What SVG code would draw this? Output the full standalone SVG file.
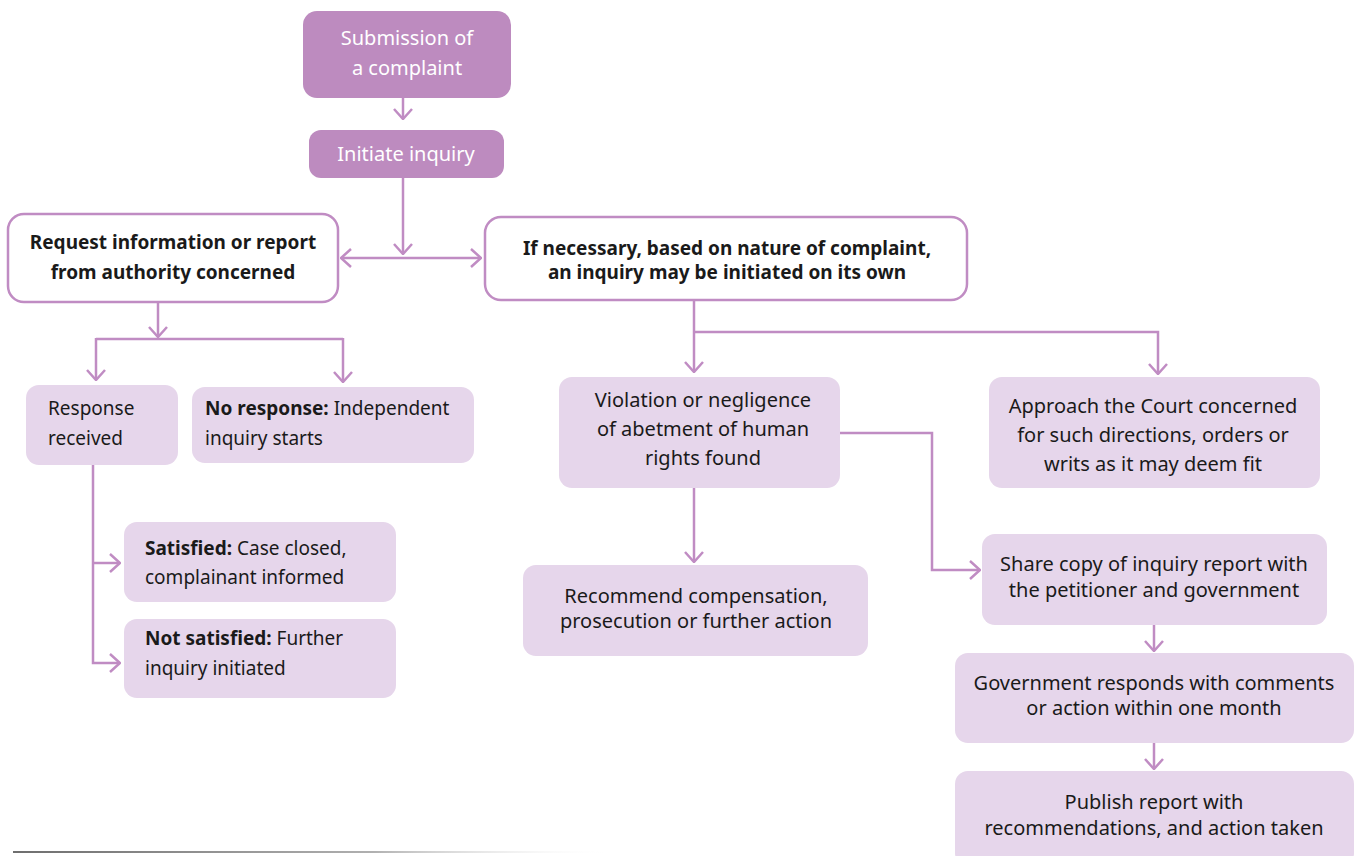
<svg xmlns="http://www.w3.org/2000/svg" width="1357" height="856" viewBox="0 0 1357 856">
<style>
text{font-family:"Noto Sans",Lato,"Liberation Sans",sans-serif;font-size:19px;fill:#1a1a1a}
.w{fill:#ffffff}
.b{font-weight:bold}
.c{text-anchor:middle}
.r{font-size:20px}
.dk{fill:#bd8bbf}
.lt{fill:#e6d6eb}
.ol{fill:#ffffff;stroke:#c08cc3;stroke-width:2.5}
.ln{fill:none;stroke:#c08cc3;stroke-width:2.5}
</style>
<defs>
<marker id="ah" viewBox="0 0 12 20" refX="11" refY="10" markerWidth="12" markerHeight="20" markerUnits="userSpaceOnUse" orient="auto">
<path d="M1,1 L11,10 L1,19" fill="none" stroke="#c08cc3" stroke-width="2.5"/>
</marker>
<linearGradient id="fade" x1="0" x2="1" y1="0" y2="0">
<stop offset="0" stop-color="#6e6e6e"/>
<stop offset="0.6" stop-color="#b0b0b0"/>
<stop offset="1" stop-color="#ffffff" stop-opacity="0"/>
</linearGradient>
</defs>

<g id="connectors">
<path class="ln" d="M403,98 V119" marker-end="url(#ah)"/>
<path class="ln" d="M403,178 V254" marker-end="url(#ah)"/>
<path class="ln" d="M403,258 H341" marker-end="url(#ah)"/>
<path class="ln" d="M403,258 H481" marker-end="url(#ah)"/>
<path class="ln" d="M158,302 V337" marker-end="url(#ah)"/>
<path class="ln" d="M96,339 H343"/>
<path class="ln" d="M96,338 V380" marker-end="url(#ah)"/>
<path class="ln" d="M343,338 V382" marker-end="url(#ah)"/>
<path class="ln" d="M93,465 V663 H120" marker-end="url(#ah)"/>
<path class="ln" d="M93,563 H120" marker-end="url(#ah)"/>
<path class="ln" d="M694,300 V372" marker-end="url(#ah)"/>
<path class="ln" d="M694,332 H1158 V374" marker-end="url(#ah)"/>
<path class="ln" d="M840,433 H932 V570 H980" marker-end="url(#ah)"/>
<path class="ln" d="M694,488 V562" marker-end="url(#ah)"/>
<path class="ln" d="M1154,625 V651" marker-end="url(#ah)"/>
<path class="ln" d="M1154,743 V769" marker-end="url(#ah)"/>
</g>

<g id="submission">
<rect class="dk" x="303" y="11" width="208" height="87" rx="14"/>
<text class="w c r" x="407" y="45">Submission of</text>
<text class="w c r" x="407" y="75">a complaint</text>
</g>
<g id="initiate">
<rect class="dk" x="309" y="130" width="195" height="48" rx="12"/>
<text class="w c r" x="406" y="161">Initiate inquiry</text>
</g>
<g id="request">
<rect class="ol" x="8" y="214" width="330" height="88" rx="16"/>
<text class="b c" x="173" y="249">Request information or report</text>
<text class="b c" x="173" y="279">from authority concerned</text>
</g>
<g id="ifnecessary">
<rect class="ol" x="485" y="217" width="482" height="83" rx="16"/>
<text class="b c" x="727" y="255">If necessary, based on nature of complaint,</text>
<text class="b c" x="727" y="279">an inquiry may be initiated on its own</text>
</g>
<g id="response">
<rect class="lt" x="26" y="385" width="152" height="80" rx="13"/>
<text x="48" y="415">Response</text>
<text x="48" y="445">received</text>
</g>
<g id="noresponse">
<rect class="lt" x="192" y="387" width="282" height="76" rx="13"/>
<text x="205" y="415"><tspan class="b">No response:</tspan> Independent</text>
<text x="205" y="445">inquiry starts</text>
</g>
<g id="satisfied">
<rect class="lt" x="124" y="522" width="272" height="80" rx="13"/>
<text x="145" y="555"><tspan class="b">Satisfied:</tspan> Case closed,</text>
<text x="145" y="584">complainant informed</text>
</g>
<g id="notsatisfied">
<rect class="lt" x="124" y="619" width="272" height="79" rx="13"/>
<text x="145" y="645"><tspan class="b">Not satisfied:</tspan> Further</text>
<text x="145" y="675">inquiry initiated</text>
</g>
<g id="violation">
<rect class="lt" x="559" y="377" width="281" height="111" rx="13"/>
<text class="c r" x="703" y="407">Violation or negligence</text>
<text class="c r" x="703" y="436">of abetment of human</text>
<text class="c r" x="703" y="465">rights found</text>
</g>
<g id="recommend">
<rect class="lt" x="523" y="565" width="345" height="91" rx="13"/>
<text class="c r" x="696" y="603">Recommend compensation,</text>
<text class="c r" x="696" y="628">prosecution or further action</text>
</g>
<g id="approach">
<rect class="lt" x="989" y="377" width="331" height="111" rx="13"/>
<text class="c r" x="1153" y="413">Approach the Court concerned</text>
<text class="c r" x="1153" y="442">for such directions, orders or</text>
<text class="c r" x="1153" y="471">writs as it may deem fit</text>
</g>
<g id="share">
<rect class="lt" x="982" y="534" width="345" height="91" rx="13"/>
<text class="c r" x="1154" y="571">Share copy of inquiry report with</text>
<text class="c r" x="1154" y="597">the petitioner and government</text>
</g>
<g id="government">
<rect class="lt" x="955" y="653" width="399" height="90" rx="13"/>
<text class="c r" x="1154" y="690">Government responds with comments</text>
<text class="c r" x="1154" y="715">or action within one month</text>
</g>
<g id="publish">
<rect class="lt" x="955" y="771" width="399" height="95" rx="13"/>
<text class="c r" x="1154" y="809">Publish report with</text>
<text class="c r" x="1154" y="835">recommendations, and action taken</text>
</g>

<rect x="13" y="851" width="600" height="2" fill="url(#fade)"/>
</svg>
